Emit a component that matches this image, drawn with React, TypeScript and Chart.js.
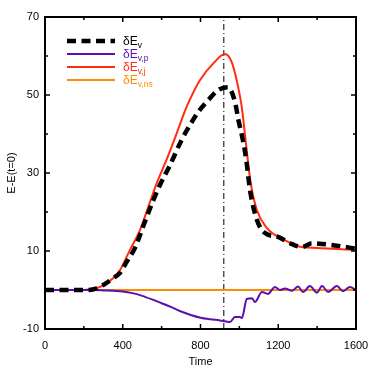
import React, { useEffect, useRef } from "react";
import { Chart, registerables } from "chart.js";

Chart.register(...registerables);

// δE_v (black dashed)
const T_V = [0, 200, 250, 300, 350, 386, 420, 463, 514, 557, 592, 643, 703, 746, 789, 840, 892, 940, 977, 995, 1021, 1035, 1055, 1090, 1132, 1199, 1260, 1322, 1373, 1425, 1482, 1553, 1600];
const E_V = [0, 0, 0.2, 1.3, 3, 4.4, 7.2, 10.8, 17.5, 23, 27, 32, 38.5, 42.3, 45.7, 48.7, 51.3, 52, 48.3, 43.6, 37.7, 33.5, 25.5, 18, 14.6, 13.6, 12, 11, 12, 11.8, 11.5, 11, 10.6];

// δE_v,p (purple)
const T_P = [0, 250, 300, 400, 450, 500, 550, 600, 650, 700, 750, 800, 850, 900, 952, 977, 1003, 1013, 1038, 1065, 1080, 1116, 1147, 1183, 1209, 1235, 1271, 1302, 1327, 1363, 1399, 1425, 1456, 1502, 1533, 1569, 1600];
const E_P = [0, 0, -0.1, -0.4, -0.8, -1.5, -2.4, -3.4, -4.4, -5.5, -6.4, -7.1, -7.5, -7.8, -8.2, -6.9, -6.9, -7.2, -2.3, -2.1, -3.1, -0.5, -1, 0.8, 0, 0.4, -0.2, 0.9, -0.5, 1, -0.7, 1, -0.5, 1, -0.3, 0.8, 0];

// δE_v,j (red)
const T_J = [0, 200, 250, 300, 350, 386, 437, 489, 532, 575, 626, 680, 729, 797, 866, 926, 960, 986, 1012, 1035, 1058, 1090, 1140, 1180, 1225, 1280, 1320, 1400, 1500, 1600];
const E_J = [0, 0, 0.3, 1.2, 3, 5.1, 10.3, 15.4, 21.4, 27.4, 33.5, 40.5, 47, 53.8, 58.1, 60.5, 58.5, 53.8, 47, 37, 27.5, 20.5, 16, 14.2, 13, 11.6, 11, 10.8, 10.5, 10.3];

// δE_v,ns (orange)
const T_NS = [0, 1600];
const E_NS = [0, 0];

const X_TICKS = [0, 400, 800, 1200, 1600];
const Y_TICKS = [-10, 10, 30, 50, 70];
const T_MARK = 920;

const LEGEND = [
  { main: "δE", sub: "v", color: "#000000", dash: true },
  { main: "δE", sub: "v,p", color: "#5a10b0", dash: false },
  { main: "δE", sub: "v,j", color: "#ff2d12", dash: false },
  { main: "δE", sub: "v,ns", color: "#ff8c00", dash: false },
];

const FONT = '"Liberation Sans", Arial, sans-serif';

const pts = (t: number[], v: number[]) => t.map((x, i) => ({ x, y: v[i] }));

const framePlugin = {
  id: "frame",
  beforeDatasetsDraw(chart: any) {
    const { ctx, chartArea: a, scales } = chart;
    const x = scales.x.getPixelForValue(T_MARK);
    ctx.save();
    ctx.strokeStyle = "#000";
    ctx.lineWidth = 1;
    ctx.setLineDash([6, 3, 1, 3]);
    ctx.beginPath();
    ctx.moveTo(x, a.bottom);
    ctx.lineTo(x, a.top);
    ctx.stroke();
    ctx.restore();
  },
  afterDatasetsDraw(chart: any) {
    const { ctx, chartArea: a, scales } = chart;
    ctx.save();
    ctx.strokeStyle = "#000";
    ctx.lineWidth = 1.5;
    for (let t = 0; t <= 1600; t += 200) {
      const px = scales.x.getPixelForValue(t);
      const len = t % 400 === 0 ? 5 : 3;
      ctx.beginPath();
      ctx.moveTo(px, a.bottom);
      ctx.lineTo(px, a.bottom - len);
      ctx.moveTo(px, a.top);
      ctx.lineTo(px, a.top + len);
      ctx.stroke();
    }
    for (let v = -10; v <= 70; v += 10) {
      const py = scales.y.getPixelForValue(v);
      const len = (v + 10) % 20 === 0 ? 5 : 3;
      ctx.beginPath();
      ctx.moveTo(a.left, py);
      ctx.lineTo(a.left + len, py);
      ctx.moveTo(a.right, py);
      ctx.lineTo(a.right - len, py);
      ctx.stroke();
    }
    ctx.lineWidth = 2;
    ctx.strokeRect(a.left, a.top, a.right - a.left, a.bottom - a.top);

    LEGEND.forEach((it, i) => {
      const y = 41 + i * 13;
      ctx.beginPath();
      ctx.strokeStyle = it.color;
      ctx.lineWidth = it.dash ? 4.5 : 2;
      ctx.setLineDash(it.dash ? [9, 5.5] : []);
      ctx.moveTo(67, y);
      ctx.lineTo(115, y);
      ctx.stroke();
      ctx.setLineDash([]);
      ctx.fillStyle = it.color;
      ctx.textAlign = "left";
      ctx.textBaseline = "alphabetic";
      ctx.font = `12px ${FONT}`;
      ctx.fillText(it.main, 123, y + 4);
      const w = ctx.measureText(it.main).width;
      ctx.font = `8.5px ${FONT}`;
      ctx.fillText(it.sub, 123 + w, y + 7);
    });
    ctx.restore();
  },
};

export default function App() {
  const ref = useRef<HTMLCanvasElement>(null);
  useEffect(() => {
    document.body.style.margin = "0";
    const chart = new Chart(ref.current!, {
      type: "line",
      data: {
        datasets: [
          { data: pts(T_V, E_V), borderColor: "#000000", borderWidth: 4.5, borderDash: [9, 5.5], pointRadius: 0, cubicInterpolationMode: "monotone" },
          { data: pts(T_P, E_P), borderColor: "#5a10b0", borderWidth: 2, pointRadius: 0, cubicInterpolationMode: "monotone" },
          { data: pts(T_J, E_J), borderColor: "#ff2d12", borderWidth: 2, pointRadius: 0, cubicInterpolationMode: "monotone" },
          { data: pts(T_NS, E_NS), borderColor: "#ff8c00", borderWidth: 2, pointRadius: 0 },
        ],
      },
      options: {
        animation: false,
        responsive: false,
        maintainAspectRatio: false,
        layout: { padding: { top: 17, right: 18, left: 5, bottom: 5 } },
        plugins: { legend: { display: false }, tooltip: { enabled: false } },
        scales: {
          x: {
            type: "linear",
            min: 0,
            max: 1600,
            afterFit: (s: any) => { s.height = 40; s.paddingLeft = 0; s.paddingRight = 0; },
            afterBuildTicks: (s: any) => { s.ticks = X_TICKS.map((v) => ({ value: v })); },
            grid: { display: false, drawTicks: false },
            border: { display: false },
            ticks: { color: "#000", font: { family: FONT, size: 11 }, padding: 10, maxRotation: 0, callback: (v: any) => String(v) },
            title: { display: true, text: "Time", color: "#000", font: { family: FONT, size: 11 }, padding: { top: 2, bottom: 0 } },
          },
          y: {
            type: "linear",
            min: -10,
            max: 70,
            afterFit: (s: any) => { s.width = 40; s.paddingTop = 0; s.paddingBottom = 0; },
            afterBuildTicks: (s: any) => { s.ticks = Y_TICKS.map((v) => ({ value: v })); },
            grid: { display: false, drawTicks: false },
            border: { display: false },
            ticks: { color: "#000", font: { family: FONT, size: 11 }, padding: 6, callback: (v: any) => String(v) },
            title: { display: true, text: "E-E(t=0)", color: "#000", font: { family: FONT, size: 11 }, padding: { top: 0, bottom: 0 } },
          },
        },
      },
      plugins: [framePlugin],
    } as any);
    return () => chart.destroy();
  }, []);
  return (
    <div style={{ position: "absolute", left: 0, top: 0, width: 374, height: 374, background: "#fff" }}>
      <canvas ref={ref} width={374} height={374} style={{ width: 374, height: 374 }} />
    </div>
  );
}
